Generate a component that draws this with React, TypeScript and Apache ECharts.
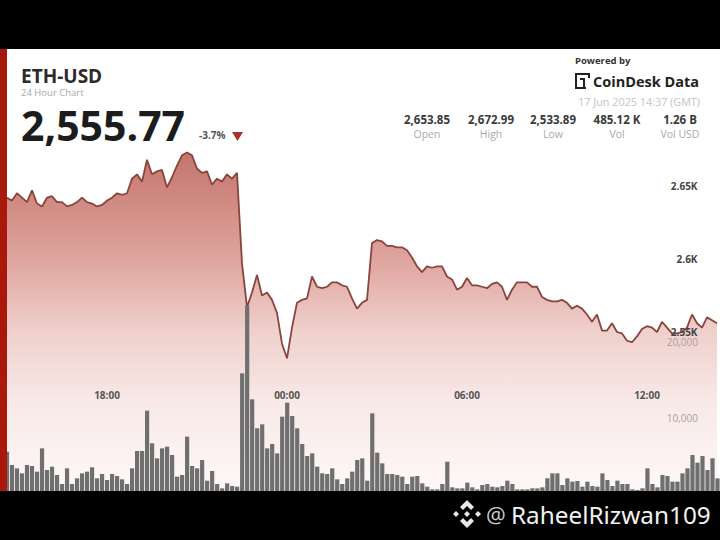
import React, { useEffect, useRef } from "react";
import * as echarts from "echarts";

const prices = [
  2642, 2640, 2645, 2642, 2639, 2647, 2638, 2636, 2642, 2643, 2639, 2639, 2636, 2637, 2639, 2642, 2639, 2638, 2636, 2637,
  2640, 2642, 2645, 2644, 2645, 2655, 2658, 2653, 2668, 2658, 2660, 2661, 2649, 2656, 2664, 2671, 2673, 2671, 2662, 2659,
  2660, 2651, 2655, 2653, 2658, 2655, 2659, 2597, 2567, 2577, 2589, 2575, 2577, 2572, 2563, 2542, 2532, 2553, 2570, 2572,
  2573, 2588, 2581, 2580, 2581, 2584, 2584, 2582, 2581, 2573, 2566, 2570, 2572, 2611, 2613, 2612, 2609, 2609, 2608, 2608,
  2606, 2601, 2595, 2591, 2595, 2594, 2595, 2595, 2588, 2586, 2579, 2581, 2587, 2582, 2582, 2581, 2580, 2583, 2584, 2581,
  2572, 2579, 2584, 2584, 2584, 2581, 2581, 2574, 2572, 2571, 2571, 2572, 2570, 2566, 2568, 2566, 2562, 2557, 2562, 2551,
  2551, 2556, 2550, 2549, 2544, 2543, 2547, 2552, 2554, 2553, 2550, 2557, 2553, 2549, 2549, 2550, 2553, 2562, 2556, 2553,
  2560, 2558, 2556,
];

const volumes = [
  5570, 3816, 3377, 2719, 3816, 3684, 2939, 6009, 3158, 3596, 2500, 1316, 3377, 1316, 2061, 2719, 2939, 3509, 2061, 2632,
  1842, 2632, 2368, 1930, 1316, 3377, 5658, 5658, 10965, 6667, 4693, 6009, 6228, 5132, 2281, 2500, 7544, 3684, 3377, 4474,
  1754, 3026, 1316, 746, 1404, 1053, 965, 15877, 24800, 12456, 8640, 9167, 6009, 6579, 5351, 10175, 12018, 10263, 8640, 6579,
  5000, 5351, 3596, 2719, 2632, 3377, 1930, 1316, 2061, 2939, 4474, 4693, 1754, 10614, 5439, 4035, 2632, 2632, 2500, 2281,
  1316, 2281, 2368, 1404, 965, 614, 614, 1316, 4254, 877, 746, 746, 1491, 877, 614, 1184, 1316, 965, 877, 1053,
  1754, 1316, 614, 614, 614, 746, 746, 877, 2061, 2719, 2719, 1184, 2061, 1623, 1711, 965, 1623, 1053, 965, 2719,
  1842, 1053, 1754, 1316, 1316, 614, 526, 746, 3377, 1316, 877, 2500, 2368, 1623, 1623, 2719, 3377, 5132, 4123, 5000,
  3158, 4693, 2061,
];

const timeLabels = ["18:00", "00:00", "06:00", "12:00"];
const priceTicks: Record<number, string> = { 2650: "2.65K", 2600: "2.6K", 2550: "2.55K" };
const volumeTicks: Record<number, string> = { 20000: "20,000", 10000: "10,000" };

const statValues = ["2,653.85", "2,672.99", "2,533.89", "485.12 K", "1.26 B"];
const statNames = ["Open", "High", "Low", "Vol", "Vol USD"];
const statCentres = [427, 491, 553, 617, 680];

const FONT = '"Open Sans", sans-serif';
const pad = (n: number) => String(n).padStart(2, "0");
// ten-minute candles, starting at 14:40
const categories = prices.map((_, i) => {
  const m = (14 * 60 + 40 + i * 10) % 1440;
  return `${pad(Math.floor(m / 60))}:${pad(m % 60)}`;
});

const txt = (x: number, y: number, text: string, size: number, fill: string, weight: any = 400, align = "left", family = FONT) => ({
  type: "text",
  x,
  y,
  z: 100,
  style: { text, fontSize: size, lineHeight: size * 1.05, fill, fontWeight: weight, fontFamily: family, align, verticalAlign: "middle" },
});
const rect = (x: number, y: number, width: number, height: number, fill: string) => ({
  type: "rect",
  z: 99,
  shape: { x, y, width, height },
  style: { fill },
});
const poly = (points: number[][], fill: string) => ({ type: "polygon", z: 100, shape: { points }, style: { fill } });

export default function App() {
  const ref = useRef<HTMLDivElement>(null);
  useEffect(() => {
    const chart = echarts.init(ref.current!, null, { renderer: "svg" });
    const wm = "#e8e8e8";
    chart.setOption({
      animation: false,
      backgroundColor: "#ffffff",
      grid: [
        { left: 4.5, width: 717, top: 40, height: 474.5 },
        { left: 4.5, width: 717, top: 266, height: 228 },
      ],
      xAxis: [
        {
          type: "category",
          gridIndex: 0,
          z: 10,
          data: categories,
          axisLine: { show: false },
          axisTick: { show: false },
          splitLine: { show: false },
          axisLabel: {
            inside: true,
            margin: 119.5,
            interval: 0,
            formatter: (v: string) => (timeLabels.includes(v) ? v : ""),
            color: "#555555",
            fontSize: 10,
            fontWeight: 700,
            fontFamily: FONT,
            verticalAlign: "middle",
          },
        },
        {
          type: "category",
          gridIndex: 1,
          data: categories,
          axisLine: { show: false },
          axisTick: { show: false },
          axisLabel: { show: false },
          splitLine: { show: false },
        },
      ],
      yAxis: [
        {
          type: "value",
          gridIndex: 0,
          position: "right",
          z: 10,
          min: 2425,
          max: 2750,
          interval: 25,
          splitLine: { show: false },
          axisLine: { show: false },
          axisTick: { show: false },
          axisLabel: {
            inside: true,
            margin: 22,
            formatter: (v: number) => priceTicks[v] ?? "",
            color: "#444444",
            fontSize: 10,
            fontWeight: 700,
            fontFamily: FONT,
            verticalAlign: "middle",
          },
        },
        {
          type: "value",
          gridIndex: 1,
          position: "right",
          z: 10,
          min: 0,
          max: 30000,
          interval: 10000,
          splitLine: { show: false },
          axisLine: { show: false },
          axisTick: { show: false },
          axisLabel: {
            inside: true,
            margin: 22,
            formatter: (v: number) => volumeTicks[v] ?? "",
            color: "#a8a0a0",
            fontSize: 10,
            fontFamily: FONT,
            verticalAlign: "middle",
          },
        },
      ],
      series: [
        {
          type: "line",
          xAxisIndex: 0,
          yAxisIndex: 0,
          data: prices,
          z: 2,
          symbol: "none",
          lineStyle: { color: "#8a443e", width: 1.8 },
          areaStyle: {
            opacity: 1,
            color: new echarts.graphic.LinearGradient(0, 0, 0, 1, [
              { offset: 0, color: "#c4756c" },
              { offset: 0.3, color: "#dfa59f" },
              { offset: 0.49, color: "#efcfcb" },
              { offset: 0.685, color: "#f8e9e7" },
              { offset: 0.93, color: "#fdf8f7" },
              { offset: 1, color: "#ffffff" },
            ]),
          },
        },
        {
          type: "bar",
          xAxisIndex: 1,
          yAxisIndex: 1,
          data: volumes,
          z: 3,
          barWidth: 4.2,
          itemStyle: { color: "#6f6f6f" },
        },
      ],
      graphic: {
        elements: [
          rect(0, 0, 720, 49, "#000000"),
          rect(0, 491, 720, 49, "#000000"),
          rect(0, 49, 7, 442, "#a8190c"),
          txt(21, 76, "ETH-USD", 19, "#2b2b2b", 700),
          txt(21, 92.5, "24 Hour Chart", 9.5, "#a9a9a9"),
          txt(21, 125, "2,555.77", 41, "#1c1c1c", 700),
          txt(199, 135, "-3.7%", 10, "#555555", 700),
          poly([[232, 132], [243, 132], [237.5, 141]], "#a8312a"),
          txt(575, 60, "Powered by", 9.5, "#333333", 700),
          rect(575, 73, 14, 2, "#222222"),
          rect(575, 73, 2, 16, "#222222"),
          rect(575, 87, 11, 2, "#222222"),
          rect(580, 78, 5, 2, "#222222"),
          rect(583, 78, 2, 9, "#222222"),
          rect(588, 73, 2, 5, "#222222"),
          txt(593, 81, "CoinDesk Data", 14.5, "#222222", 700),
          txt(700, 101, "17 Jun 2025 14:37 (GMT)", 10.8, "#c4c4c4", 400, "right"),
          ...statValues.map((v, i) => txt(statCentres[i], 119, v, 11.5, "#3a3a3a", 700, "center")),
          ...statNames.map((v, i) => txt(statCentres[i], 134, v, 10.5, "#aaaaaa", 400, "center")),
          poly([[467, 500], [474, 507], [471, 510], [467, 506], [463, 510], [460, 507]], wm),
          poly([[467, 528], [474, 521], [471, 518], [467, 522], [463, 518], [460, 521]], wm),
          poly([[456, 511], [459, 514], [456, 517], [453, 514]], wm),
          poly([[478, 511], [481, 514], [478, 517], [475, 514]], wm),
          poly([[467, 511], [470, 514], [467, 517], [464, 514]], wm),
          txt(486, 514, "@", 22, "#cccccc"),
          txt(511, 514, "RaheelRizwan109", 24.3, "#f2f2f2", 400, "left", '"Noto Sans", sans-serif'),
        ],
      },
    });
    return () => chart.dispose();
  }, []);
  return <div ref={ref} style={{ position: "fixed", left: 0, top: 0, width: 720, height: 540 }} />;
}
